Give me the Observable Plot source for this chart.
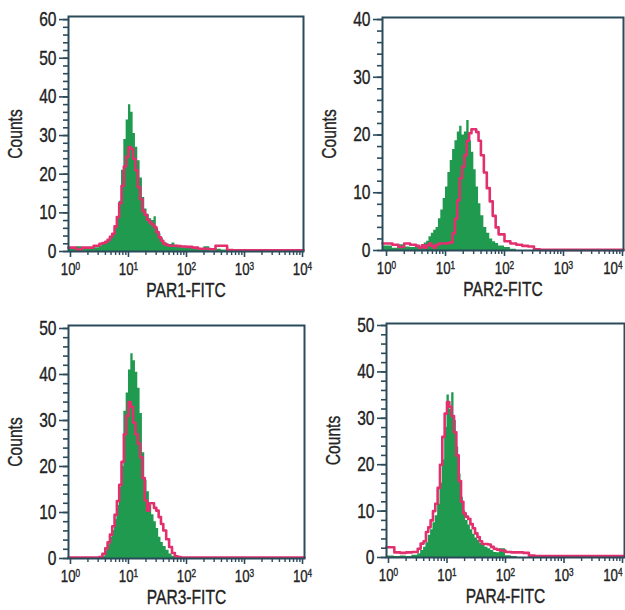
<!DOCTYPE html>
<html><head><meta charset="utf-8">
<script src="https://cdn.jsdelivr.net/npm/d3@7"></script>
<script src="https://cdn.jsdelivr.net/npm/@observablehq/plot@0.6"></script>
<style>
html,body{margin:0;padding:0;background:#fff;overflow:hidden;}
#wrap{position:relative;width:625px;height:610px;}
#wrap svg{position:absolute;overflow:visible;}
</style></head><body><div id="wrap"></div>
<script>
// Fluorescence channel breakpoints (log10 of intensity) shared by all histograms
const exps = [0, 0.1, 0.2, 0.3, 0.4, 0.5, 0.55, 0.6, 0.64, 0.68, 0.72, 0.76, 0.8, 0.84, 0.88, 0.92, 0.96, 1.0, 1.04, 1.08, 1.12, 1.16, 1.2, 1.24, 1.28, 1.32, 1.36, 1.4, 1.44, 1.48, 1.52, 1.56, 1.6, 1.65, 1.7, 1.75, 1.8, 1.85, 1.9, 2.0, 2.1, 2.2, 2.3, 2.4, 2.5, 2.6, 2.7, 2.8, 3.0, 3.5, 4.0];

const titles = ["PAR1-FITC", "PAR2-FITC", "PAR3-FITC", "PAR4-FITC"];

// Counts (green filled = control, magenta outline = PAR antibody)
const par1Green = [0.8,1.2,0.5,0.8,1.0, 1.5,2.0,2.5,3.0,3.6, 4.5,6.2,8.5,13,21, 29,34,38,36,30.5, 27,23.5,19,14,11, 9.5,8.5,8,9,6, 4.6,3.5,2.4,2.0,1.8, 2.2,1.6,1.2,1.0,1.0, 0.8,0.4,1.2,0.2,0.6, 0.4,0.2,0.1,0.1,0.1, 0.1];
const par1Red   = [1.0,0.5,1.0,1.0,1.5, 2.0,2.2,2.5,3.0,3.8, 4.6,6.5,8.9,12.5,17, 22,24.5,27,26.5,24, 21,16.6,13.5,10.5,9.5, 8.2,7.5,7,6.3,5, 3.7,2.8,2.0,1.6,1.5, 1.5,1.5,1.4,1.3,1.2, 1.0,0.7,0.7,0.6,1.5, 1.5,0.4,0.3,0.3,0.3, 0.3];
const par2Green = [0.8,0.4,1.0,0.6,0.5, 0.9,0.6,1.0,1.3,1.6, 2.4,3.0,3.5,4.0,5.5, 7,9,11,13.5,15.6, 17.5,19,20.5,21.5,20, 20.5,22.5,19,17,14, 11,8.1,6,4,3, 2,1.5,1.2,0.8,0.5, 0.2,0,0,0,0, 0,0,0,0,0, 0];
const par2Red   = [1.2,1.0,0.6,1.2,1.0, 0.8,0.5,0.9,0.5,0.9, 1.2,0.8,0.5,1.0,1.2, 1.2,1.2,1.2,1.3,1.4, 3.0,5.5,8.7,12.5,14.5, 16.5,19,20.3,21,21, 20.5,19,16.5,13.5,10.8, 8.5,6.0,4.0,2.8,1.6, 1.2,1.0,0.8,0.7,0.2, 0.1,0.1,0.1,0.1,0.1, 0.1];
const par3Green = [0,0,0,0,0, 0.2,0.5,1.7,3.0,4.6, 6.1,8.5,11.5,15.5,20, 32,36,41,44.5,43, 40.5,37,31.5,23,17, 14.5,11.5,9.5,8,6.5, 4.6,3.5,2.6,1.8,1.0, 0.5,0.2,0,0,0, 0,0,0,0,0, 0,0,0,0,0, 0];
const par3Red   = [0.2,0.2,0.2,0.2,0.2, 0.3,1.0,2.2,3.5,5.2, 7,9.5,12.5,16,21, 27,31,34,33,29.5, 27,25,22,17.5,12.6, 10.4,12,12,11,10.4, 9,7.5,6.1,4.2,2.5, 1.2,0.5,0.3,0.2,0.2, 0.2,0.2,0.2,0.2,0.2, 0.2,0.2,0.2,0.2,0.2, 0.2];
const par4Green = [0.3,0.2,0.3,0.2,0.5, 0.8,1.5,2.2,3.2,4.8, 6,7.5,9,11.5,16, 21,28,35,32,35.5, 29.5,23.8,18,13,10, 8,7,6,5,4.2, 3.7,3,2.6,2.2,1.9, 1.5,1.1,1.0,1.9,0.4, 0.2,0,0,0,0, 0,0,0,0,0, 0];
const par4Red   = [2.2,1.1,1.0,1.1,1.2, 1.9,3.0,3.5,5.5,6.5, 8,10,11.6,15,20, 26,31,33.5,32.5,30.5, 27,22,16.5,12,9.5, 8.8,8.3,7.2,6.3,5.2, 4.4,3.5,2.9,2.9,2.8, 2.3,1.9,1.7,1.5,1.2, 1.1,1.1,1.0,0.4,0.3, 0.3,0.3,0.3,0.3,0.3, 0.3];

// Tick values
const xTickExps = [0, 1, 2, 3, 4];
const yTicks1 = [0, 10, 20, 30, 40, 50, 60];
const yTicks2 = [0, 10, 20, 30, 40];
const yTicks3 = [0, 10, 20, 30, 40, 50];
const yTicks4 = [0, 10, 20, 30, 40, 50];

const GREEN = "#1f9a4f", MAGENTA = "#e2306f", FRAME = "#2b4b5b", TEXT = "#222";
const FONT = "'Liberation Sans', Arial, Helvetica, sans-serif";
const SX = 0.78; // narrow type
const FS_Y = "20px", FS_X = "17px", FS_LABEL = "20px";

const series = [
  {green: par1Green, red: par1Red, yTicks: yTicks1},
  {green: par2Green, red: par2Red, yTicks: yTicks2},
  {green: par3Green, red: par3Red, yTicks: yTicks3},
  {green: par4Green, red: par4Red, yTicks: yTicks4}
];
const layout = [
  {left: 0,   top: 0,   w: 312, h: 305, ml: 68, mr: 9, mt: 16, mb: 54, lo: -0.034, hi: 4.017, ymax: 60.8, edge: false},
  {left: 312, top: 0,   w: 313, h: 305, ml: 70, mr: 2, mt: 17, mb: 55, lo: -0.068, hi: 4.017, ymax: 40.35, edge: true},
  {left: 0,   top: 305, w: 312, h: 305, ml: 68, mr: 8, mt: 20, mb: 52, lo: -0.034, hi: 4.034, ymax: 50.65, edge: false},
  {left: 312, top: 305, w: 313, h: 305, ml: 74, mr: 1, mt: 18, mb: 53, lo: -0.034, hi: 4.034, ymax: 50.43, edge: true}
];

const wrap = document.getElementById("wrap");
const NS = "http://www.w3.org/2000/svg";

series.forEach((s, k) => {
  const L = layout[k];
  const xmin = 10 ** L.lo, xmax = 10 ** L.hi;
  const last = exps.length - 1;
  const rows = exps.map((e, i) => ({
    x: i === 0 ? xmin : i === last ? xmax : 10 ** e,
    g: s.green[i], m: s.red[i]
  }));
  const majorX = xTickExps.map(e => 10 ** e);
  const minorX = [];
  xTickExps.slice(0, -1).forEach(e => { for (let j = 2; j <= 9; j++) minorX.push(j * 10 ** e); });
  const yTop = s.yTicks[s.yTicks.length - 1];
  const minorY = d3.range(0, yTop + 0.001, 2);

  const svg = Plot.plot({
    width: L.w, height: L.h,
    marginLeft: L.ml, marginRight: L.mr, marginTop: L.mt, marginBottom: L.mb,
    style: {fontFamily: FONT, fontSize: FS_Y, color: TEXT, background: "transparent", overflow: "visible"},
    x: {type: "log", domain: [xmin, xmax], axis: null},
    y: {domain: [0, L.ymax], axis: null},
    marks: [
      Plot.areaY(rows, {x: "x", y: "g", curve: "step-after", fill: GREEN}),
      Plot.lineY(rows, {x: "x", y: "m", curve: "step-after", stroke: MAGENTA, strokeWidth: 2.6}),
      Plot.frame({stroke: FRAME, strokeWidth: 2}),
      Plot.axisY(minorY, {anchor: "left", tickSize: 5, tickFormat: () => "", stroke: FRAME, strokeWidth: 1.6, label: null}),
      Plot.axisY(s.yTicks, {anchor: "left", tickSize: 9, tickPadding: 3, stroke: FRAME, fill: TEXT, strokeWidth: 1.6,
        label: "Counts", labelAnchor: "center", labelOffset: 61, labelArrow: "none"}),
      Plot.axisX(minorX, {anchor: "bottom", tickSize: 4, tickFormat: () => "", stroke: FRAME, strokeWidth: 1.4, label: null}),
      Plot.axisX(majorX, {anchor: "bottom", tickSize: 6, tickPadding: 5, stroke: FRAME, fill: TEXT, strokeWidth: 1.6,
        tickFormat: d => "10^" + Math.round(Math.log10(d)),
        label: titles[k], labelAnchor: "center", labelOffset: 45, labelArrow: "none"})
    ]
  });
  svg.style.left = L.left + "px";
  svg.style.top = L.top + "px";

  svg.querySelectorAll("text").forEach(t => {
    const g = t.closest("[aria-label]");
    const role = g ? g.getAttribute("aria-label") : "";
    const fs = role.startsWith("x-axis tick") ? FS_X : role.startsWith("y-axis tick") ? FS_Y : FS_LABEL;
    t.style.fontSize = fs;
    t.setAttribute("font-size", fs);
    // slightly heavier strokes, like the printed figure
    t.style.stroke = TEXT;
    t.style.strokeWidth = "0.35px";
    t.style.fill = TEXT;
    const m = t.textContent.match(/^10\^(\d)$/);
    if (m) {
      t.textContent = "10";
      const ts = document.createElementNS(NS, "tspan");
      ts.setAttribute("dy", "-0.45em");
      ts.style.fontSize = "0.62em";
      ts.textContent = m[1];
      t.appendChild(ts);
      // keep the clipped last decade label inside the page on right-hand panels
      if (L.edge && m[1] === "4") { t.setAttribute("text-anchor", "end"); t.style.textAnchor = "end"; }
    }
    const x = t.getAttribute("x");
    if (x !== null && x !== "" && !isNaN(+x)) t.setAttribute("x", +x / SX);
    const tr = t.getAttribute("transform") || "";
    t.setAttribute("transform", (tr + " scale(" + SX + ",1)").trim());
  });
  wrap.appendChild(svg);
});
</script>
</body></html>
